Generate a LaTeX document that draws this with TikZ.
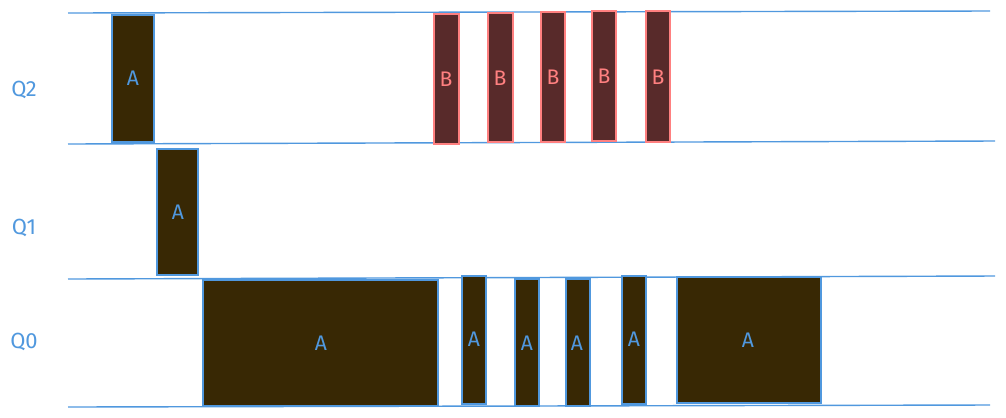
\documentclass[tikz,border=0pt]{standalone}
\usepackage{fontspec}
\setmainfont{Fira Sans}
\usepackage{tikz}

\definecolor{laneblue}{RGB}{80,152,222}
\definecolor{afill}{RGB}{56,40,4}
\definecolor{bfill}{RGB}{88,42,42}
\definecolor{bline}{RGB}{255,128,128}

\begin{document}
\begin{tikzpicture}[x=0.02cm,y=-0.02cm,
  lane/.style={draw=laneblue, line width=0.8pt},
  abox/.style={draw=laneblue, fill=afill, line width=0.8pt},
  bbox/.style={draw=bline, fill=bfill, line width=0.8pt},
  alabel/.style={text=laneblue, font=\fontsize{12}{14}\selectfont},
  blabel/.style={text=bline, font=\fontsize{12}{14}\selectfont},
  qlabel/.style={text=laneblue, font=\fontsize{12.5}{15}\selectfont}]
\useasboundingbox (0,0) rectangle (1006,417);

\draw[lane] (68,13) -- (990,11);
\draw[lane] (68,144) -- (995,141);
\draw[lane] (68,279) -- (995,276);
\draw[lane] (68,407) -- (990,405);

\node[qlabel] (q2) at (24,90) {Q2};
\node[qlabel] (q1) at (24,228) {Q1};
\node[qlabel] (q0) at (24,342) {Q0};

% Q2
\draw[abox] (112,15) rectangle (154,142);
\draw[bbox] (434,14) rectangle (459,144);
\draw[bbox] (488,13) rectangle (513,142);
\draw[bbox] (541,12) rectangle (565,142);
\draw[bbox] (592,11) rectangle (616,141);
\draw[bbox] (646,11) rectangle (670,142);

\node[alabel] (a1) at (133,78) {A};
\node[blabel] (b1) at (446,79) {B};
\node[blabel] (b2) at (500,78) {B};
\node[blabel] (b3) at (553,77) {B};
\node[blabel] (b4) at (604,76) {B};
\node[blabel] (b5) at (658,77) {B};

% Q1
\draw[abox] (157,149) rectangle (198,275);
\node[alabel] (a2) at (178,212) {A};

% Q0
\draw[abox] (203,280) rectangle (438,406);
\draw[abox] (462,276) rectangle (486,404);
\draw[abox] (515,279) rectangle (539,406);
\draw[abox] (566,279) rectangle (590,406);
\draw[abox] (622,276) rectangle (646,404);
\draw[abox] (677,277) rectangle (821,403);

\node[alabel] (a3) at (321,343) {A};
\node[alabel] (a4) at (474,339) {A};
\node[alabel] (a5) at (527,343) {A};
\node[alabel] (a6) at (577,343) {A};
\node[alabel] (a7) at (634,339) {A};
\node[alabel] (a8) at (748,340) {A};
\end{tikzpicture}
\end{document}
